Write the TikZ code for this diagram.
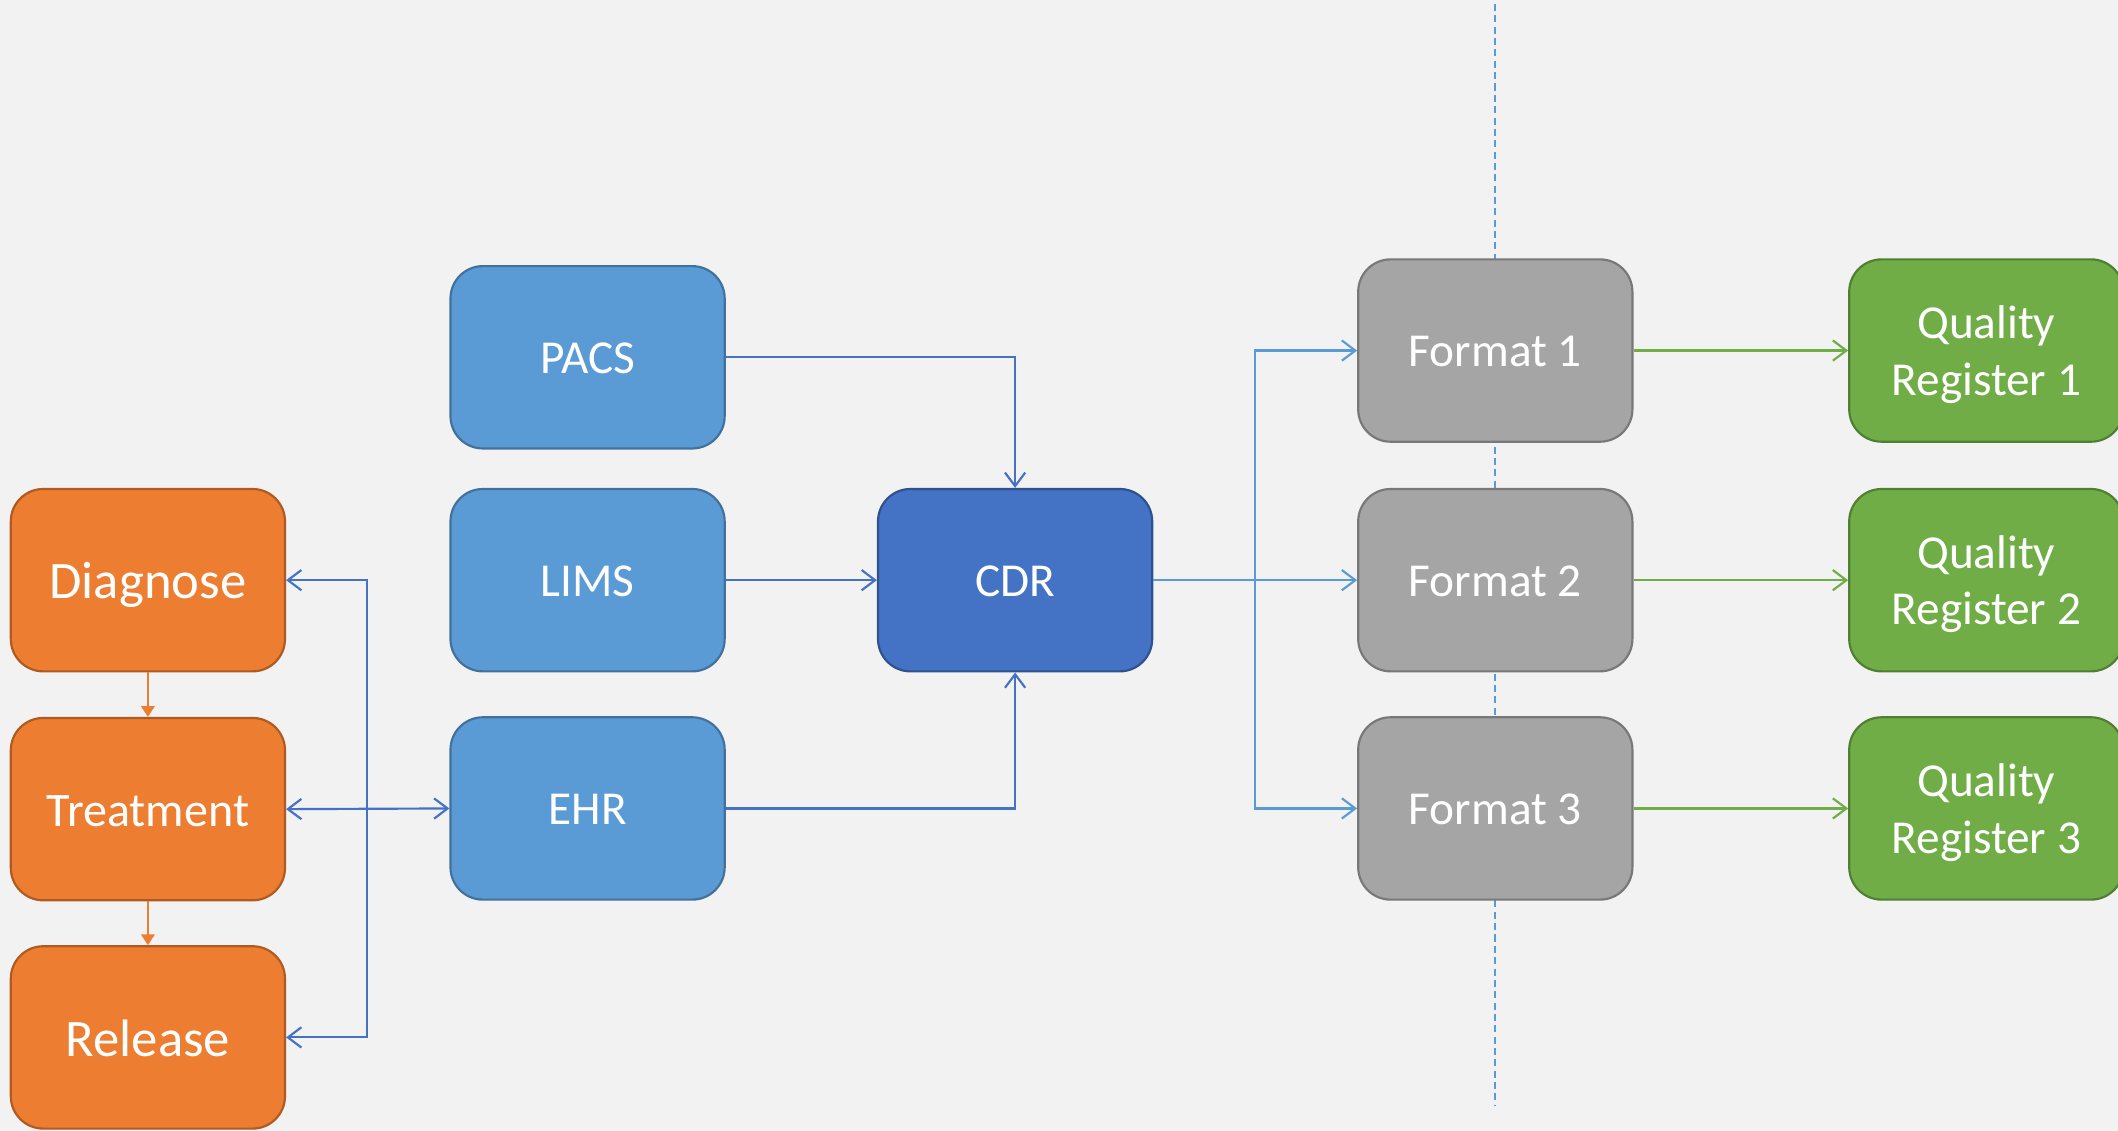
\documentclass[tikz,border=0pt]{standalone}
\usepackage{fontspec}
\setmainfont{Carlito}
\usetikzlibrary{arrows.meta}
\definecolor{bg}{HTML}{F2F2F2}
\definecolor{orangeF}{HTML}{ED7D31}
\definecolor{orangeD}{HTML}{AE5A21}
\definecolor{blueF}{HTML}{5B9BD5}
\definecolor{blueD}{HTML}{41719C}
\definecolor{cdrF}{HTML}{4472C4}
\definecolor{cdrD}{HTML}{2F528F}
\definecolor{grayF}{HTML}{A5A5A5}
\definecolor{grayD}{HTML}{787878}
\definecolor{greenF}{HTML}{70AD47}
\definecolor{greenD}{HTML}{507E32}
\tikzset{
  box/.style={rectangle, rounded corners=12pt, minimum width=101.5pt, minimum height=67.5pt,
    line width=0.8pt, text=white, align=center, inner sep=0pt,
    font=\fontsize{17.5}{21}\selectfont, text height=12pt, text depth=0pt},
  twolines/.style={text height=33pt, text depth=0pt},
  procbox/.style={box, fill=orangeF, draw=orangeD, font=\fontsize{19.5}{23}\selectfont, text height=13.9pt},
  sysbox/.style={box, fill=blueF, draw=blueD},
  repobox/.style={box, fill=cdrF, draw=cdrD},
  fmtbox/.style={box, fill=grayF, draw=grayD},
  regbox/.style={box, fill=greenF, draw=greenD, twolines},
  tip/.style={Straight Barb[length=5pt,width=7.5pt]},
  link/.style={line width=0.8pt, draw=cdrF, arrows={-Straight Barb[length=5pt,width=7.5pt]}},
  linkboth/.style={line width=0.8pt, draw=cdrF, arrows={Straight Barb[length=5pt,width=7.5pt]-Straight Barb[length=5pt,width=7.5pt]}},
  outlink/.style={line width=0.8pt, draw=blueF, arrows={-Straight Barb[length=5pt,width=7.5pt]}},
  reglink/.style={line width=0.8pt, draw=greenF, arrows={-Straight Barb[length=5pt,width=7.5pt]}},
  steplink/.style={line width=0.8pt, draw=orangeF, arrows={-Triangle[length=4pt,width=5pt]}, fill=orangeF},
}
\begin{document}
\begin{tikzpicture}[x=0.5pt, y=-0.5pt]
  \fill[bg] (0,0) rectangle (1568,837);
  \useasboundingbox (0,0) rectangle (1568,837);
  \clip (0,0) rectangle (1568,837);

  % boundary between the repository side and the register side
  \draw[blueF, line width=0.8pt, dash pattern=on 2.6pt off 1.6pt] (1107,3) -- (1107,818);

  % care process
  \node[procbox] (diag) at (109.5,429.5) {Diagnose};
  \node[procbox, font=\fontsize{17.8}{21}\selectfont, text height=13pt] (treat) at (109.5,599) {Treatment};
  \node[procbox] (rel) at (109.5,768) {Release};

  % source systems
  \node[sysbox] (pacs) at (435,264.5) {PACS};
  \node[sysbox] (lims) at (435,429.5) {LIMS};
  \node[sysbox] (ehr) at (435,598.5) {EHR};

  % clinical data repository
  \node[repobox] (cdr) at (751.5,429.5) {CDR};

  % export formats
  \node[fmtbox] (f1) at (1107,259.5) {Format 1};
  \node[fmtbox] (f2) at (1107,429.5) {Format 2};
  \node[fmtbox] (f3) at (1107,598.5) {Format 3};

  % quality registers
  \node[regbox] (q1) at (1470.5,259.5) {Quality\\Register 1};
  \node[regbox] (q2) at (1470.5,429.5) {Quality\\Register 2};
  \node[regbox] (q3) at (1470.5,598.5) {Quality\\Register 3};

  % process steps
  \draw[steplink] (diag.south) -- (treat.north);
  \draw[steplink] (treat.south) -- (rel.north);

  % EHR feedback to the process steps
  \coordinate (bus) at (272,429.5);
  \draw[linkboth] (diag.east) -- (bus) |- (rel.east);
  \draw[linkboth] (treat.east) -- (ehr.west);

  % sources into the CDR
  \draw[link] (pacs.east) -| (cdr.north);
  \draw[link] (lims.east) -- (cdr.west);
  \draw[link] (ehr.east) -| (cdr.south);

  % CDR out to the formats
  \coordinate (split) at (929,429.5);
  \draw[outlink] (cdr.east) -- (f2.west);
  \draw[outlink] (split) |- (f1.west);
  \draw[outlink] (split) |- (f3.west);

  % formats to the registers
  \draw[reglink] (f1.east) -- (q1.west);
  \draw[reglink] (f2.east) -- (q2.west);
  \draw[reglink] (f3.east) -- (q3.west);
\end{tikzpicture}
\end{document}
